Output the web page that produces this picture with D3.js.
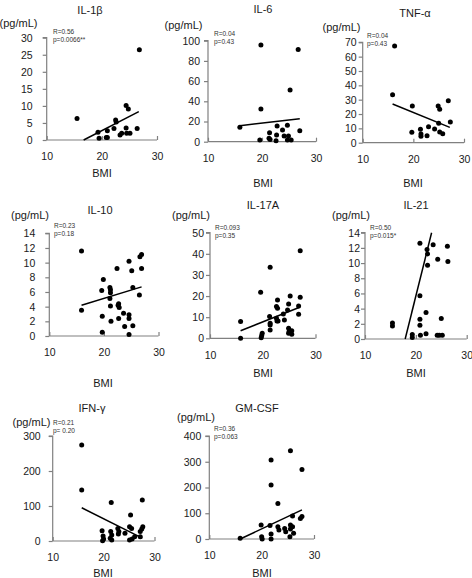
<!DOCTYPE html>
<html><head><meta charset="utf-8">
<script src="https://cdn.jsdelivr.net/npm/d3@7"></script>
<style>body{margin:0;background:#fff}svg{display:block;font-family:"Liberation Sans",Arial,sans-serif}</style>
</head><body><svg id="c" width="472" height="578"></svg>
<script>
// ---- data ----
const titles = ["IL-1\u03b2","IL-6","TNF-\u03b1","IL-10","IL-17A","IL-21","IFN-\u03b3","GM-CSF"];
const statR = ["R=0.56","R=0.04","R=0.04","R=0.23","R=0.093","R=0.50","R=0.21","R=0.36"];
const statP = ["p=0.0066**","p=0.43","p=0.43","p=0.18","p=0.35","p=0.015*","p= 0.20","p=0.063"];
const xTicks = [10,20,30];
const yMaxes = [30,100,70,14,50,14,300,400];
const ySteps = [5,20,10,2,10,2,100,100];

const il1bBMI = [15.5,26.8,19.3,19.5,20.8,21.0,21.0,22.2,22.5,22.6,23.3,23.6,24.4,24.4,24.8,24.5,25.1,26.4];
const il1bVal = [6.3,26.5,2.3,0.5,0.7,0.7,2.7,3.4,5.9,5.3,1.5,2.0,3.5,10.1,9.1,2.0,2.0,3.4];
const il1bLineX = [16.7,26.7], il1bLineY = [0,8.3];

const il6BMI = [15.9,19.8,26.7,25.2,19.8,27.0,19.6,21.4,21.3,21.5,22.8,22.7,22.6,23.8,24.1,24.7,24.9,24.7,25.4];
const il6Val = [14.2,95.7,91.4,51.2,32.3,10.9,1.7,8.9,3.3,2.3,15.5,6.6,1.0,11.6,5.6,16.2,5.6,1.7,1.7];
const il6LineX = [15.9,27.0], il6LineY = [15.8,22.8];

const tnfBMI = [16.3,15.9,19.8,19.7,21.4,21.5,21.5,22.7,23.0,24.2,24.9,25.2,25.0,25.2,25.8,26.9,27.3];
const tnfVal = [67.4,33.5,25.6,7.2,9.3,6.1,4.5,4.9,11.2,9.6,25.6,23.3,13.5,7.5,6.3,29.3,14.4];
const tnfLineX = [15.9,27.2], tnfLineY = [27.0,10.7];

const il10BMI = [15.9,15.9,19.6,19.9,19.7,19.7,21.1,21.2,21.2,21.1,21.2,21.3,22.4,22.6,22.7,22.8,22.7,23.6,23.8,24.6,24.6,24.6,24.6,25.1,25.3,25.3,26.5,26.6,26.9,26.9];
const il10Val = [11.6,3.5,6.2,7.7,2.7,0.5,6.6,6.3,5.9,5.1,4.1,2.0,9.2,4.2,4.4,3.9,2.4,3.1,1.3,10.2,2.9,2.4,0.2,8.9,1.4,6.6,5.6,10.8,11.1,9.2];
const il10LineX = [15.9,26.9], il10LineY = [4.2,6.7];

const il17BMI = [15.8,15.8,19.6,19.9,19.8,19.7,21.4,21.3,21.4,21.4,21.4,22.6,22.8,22.8,22.6,22.7,22.9,23.9,24.1,24.9,25.2,24.7,24.9,25.0,24.9,25.5,25.5,26.8,26.8,27.1,27.1];
const il17Val = [7.9,0,21.8,2.4,1.3,0.3,33.6,10.3,7.1,6.3,3.9,15.0,14.2,18.1,9.5,8.2,8.2,11.5,8.7,16.2,20.0,13.4,4.7,3.2,2.4,3.6,1.9,15.3,11.4,19.4,41.5];
const il17LineX = [15.8,27.0], il17LineY = [3.6,14.7];

const il21BMI = [15.4,15.4,19.3,19.3,20.8,20.8,20.8,20.8,20.9,22.2,22.3,22.3,22.0,22.0,23.4,24.3,24.2,24.6,25.0,25.2,26.2,26.3];
const il21Val = [2.1,1.7,0.6,0.2,12.6,5.7,2.6,1.8,0.5,11.8,11.2,9.7,3.5,0.7,12.4,10.5,0.5,0.5,2.7,0.5,12.2,10.2];
const il21LineX = [17.9,23.1], il21LineY = [0,14];

const ifnBMI = [15.7,15.7,19.7,19.9,20.0,19.8,21.5,21.4,21.6,21.3,21.6,22.8,23.0,22.9,24.2,25.3,25.1,25.5,25.1,25.6,26.1,27.6,27.2,27.5,27.7,27.2];
const ifnVal = [274,146,29,14,6,1,110,27,17,8,3,36,27,20,22,74,41,36,3,6,12,117,27,34,41,12];
const ifnLineX = [15.7,27.6], ifnLineY = [95,8];

const gmBMI = [15.9,19.9,20.0,20.1,21.8,21.8,21.6,21.8,21.8,23.1,23.1,23.3,24.4,24.6,25.5,25.5,25.5,25.4,25.9,25.9,26.1,27.7,27.7,27.4];
const gmVal = [3,54,9,0,307,210,52,19,0,138,48,35,41,28,343,54,39,9,48,89,22,270,87,80];
const gmLineX = [15.9,27.7], gmLineY = [0,113];

const allBMI = [il1bBMI,il6BMI,tnfBMI,il10BMI,il17BMI,il21BMI,ifnBMI,gmBMI];
const allVal = [il1bVal,il6Val,tnfVal,il10Val,il17Val,il21Val,ifnVal,gmVal];
const allLineX = [il1bLineX,il6LineX,tnfLineX,il10LineX,il17LineX,il21LineX,ifnLineX,gmLineX];
const allLineY = [il1bLineY,il6LineY,tnfLineY,il10LineY,il17LineY,il21LineY,ifnLineY,gmLineY];

// ---- layout (pixels) ----
const layout = [
  {x0:46.7,x1:157,y0:140,y1:37.7,title:[90,10],unit:[18.5,23],bmi:[102,173],stat:[53,31],gap:14},
  {x0:208,x1:316,y0:141.7,y1:40.7,title:[263,9],unit:[183.5,25],bmi:[263,183],stat:[214,33],gap:8},
  {x0:362.7,x1:464,y0:142.7,y1:42.3,title:[415,13],unit:[341.5,27],bmi:[413,183],stat:[367,35],gap:6},
  {x0:49.3,x1:158.5,y0:336,y1:233.3,title:[100,210],unit:[30,215],bmi:[103,383],stat:[54,225],gap:14},
  {x0:210,x1:315.5,y0:338.3,y1:232.7,title:[263,205],unit:[191,215],bmi:[263,373],stat:[215,227],gap:6},
  {x0:365,x1:466.7,y0:339,y1:232.7,title:[416,205],unit:[351,215],bmi:[416,373],stat:[370,227],gap:5},
  {x0:52.7,x1:154.5,y0:541,y1:436,title:[92,408],unit:[31.5,422],bmi:[103,573],stat:[53,422],gap:12},
  {x0:209.3,x1:314,y0:539,y1:436,title:[257,408],unit:[196,417],bmi:[262,573],stat:[214,428],gap:8}
];

const svg = d3.select("#c");
const axisColor = "#808080", textColor = "#1a1a1a";

layout.forEach((L,i)=>{
  const g = svg.append("g");
  const x = d3.scaleLinear().domain([10,30]).range([L.x0,L.x1]);
  const y = d3.scaleLinear().domain([0,yMaxes[i]]).range([L.y0,L.y1]);

  // y axis
  const yt = d3.range(0,yMaxes[i]+1e-9,ySteps[i]);
  const ya = g.append("g").attr("transform",`translate(${L.x0},0)`)
    .call(d3.axisLeft(y).tickValues(yt).tickSize(4).tickPadding(L.gap-4).tickFormat(d3.format("d")));
  ya.select(".domain").attr("stroke",axisColor).attr("stroke-width",1.2).attr("d",`M-4,${L.y1}H0V${L.y0}`);
  ya.selectAll(".tick line").attr("stroke",axisColor).attr("stroke-width",1.2);
  ya.selectAll(".tick text").attr("fill",textColor).style("font-size","10.5px");

  // x axis
  const xa = g.append("g").attr("transform",`translate(0,${L.y0})`)
    .call(d3.axisBottom(x).tickValues(xTicks).tickSize(-4).tickPadding(13).tickFormat(d3.format("d")));
  xa.select(".domain").attr("stroke",axisColor).attr("stroke-width",1.2).attr("d",`M${L.x0},0H${L.x1}`);
  xa.selectAll(".tick line").attr("stroke",axisColor).attr("stroke-width",1.2);
  xa.selectAll(".tick text").attr("fill",textColor).style("font-size","10.5px");

  // regression line
  g.append("line")
    .attr("x1",x(allLineX[i][0])).attr("y1",y(allLineY[i][0]))
    .attr("x2",x(allLineX[i][1])).attr("y2",y(allLineY[i][1]))
    .attr("stroke","#000").attr("stroke-width",1.5);

  // points
  g.selectAll("circle.pt").data(allBMI[i].map((b,k)=>[b,allVal[i][k]])).enter()
    .append("circle").attr("class","pt")
    .attr("cx",d=>x(d[0])).attr("cy",d=>y(d[1])).attr("r",2.5).attr("fill","#000");

  // texts
  g.append("text").attr("x",L.title[0]).attr("y",L.title[1]+4).attr("text-anchor","middle")
    .attr("fill",textColor).style("font-size","11px").text(titles[i]);
  g.append("text").attr("x",L.unit[0]).attr("y",L.unit[1]+4).attr("text-anchor","middle")
    .attr("fill",textColor).style("font-size","11px").text("(pg/mL)");
  g.append("text").attr("x",L.bmi[0]).attr("y",L.bmi[1]+4).attr("text-anchor","middle")
    .attr("fill",textColor).style("font-size","11px").text("BMI");
  g.append("text").attr("x",L.stat[0]).attr("y",L.stat[1]+2.5)
    .attr("fill","#333").style("font-size","6.5px").text(statR[i]);
  g.append("text").attr("x",L.stat[0]).attr("y",L.stat[1]+11)
    .attr("fill","#333").style("font-size","6.5px").text(statP[i]);
});
</script></body></html>
